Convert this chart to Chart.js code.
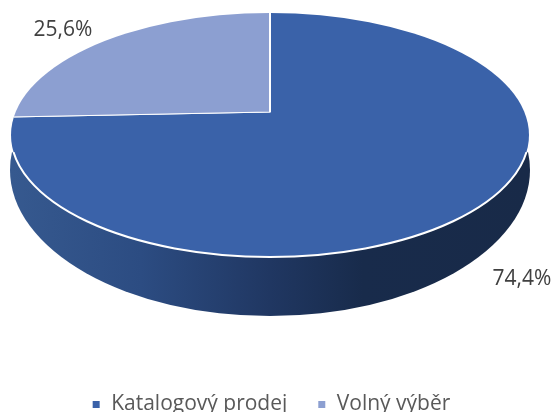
<!DOCTYPE html>
<html>
<head>
<meta charset="utf-8">
<style>
html,body{margin:0;padding:0;background:#fff;}
#wrap{position:relative;width:552px;height:412px;}
canvas{display:block;}
</style>
<script src="https://cdn.jsdelivr.net/npm/chart.js@4"></script>
</head>
<body>
<div id="wrap"><canvas id="c" width="552" height="412"></canvas></div>
<script>
const categories = ['Katalogový prodej', 'Volný výběr'];
const shares = [74.4, 25.6];
const sliceColors = ['#3A62A9', '#8C9FD1'];
const labelAnchors = [[522, 279], [63, 30]];

// Perspective view of the disc
const top3d = {cx: 270, cy: 135, rx: 259, ry: 122, apexX: 270, apexY: 112, squash: 0.5};
const wall3d = {cx: 270, cy: 170, rx: 260, ry: 146, startY: 152};

const view3d = {
  id: 'view3d',
  beforeDatasetsDraw(chart) {
    const ctx = chart.ctx;
    ctx.save();
    ctx.beginPath();
    ctx.rect(0, wall3d.startY, chart.width, chart.height);
    ctx.clip();
    const g = ctx.createLinearGradient(12, 0, 528, 0);
    g.addColorStop(0, '#36598F');
    g.addColorStop(0.25, '#2C4C82');
    g.addColorStop(0.5, '#203762');
    g.addColorStop(0.68, '#182B4B');
    g.addColorStop(1, '#182A48');
    ctx.fillStyle = g;
    ctx.beginPath();
    ctx.ellipse(wall3d.cx, wall3d.cy, wall3d.rx, wall3d.ry, 0, 0, Math.PI * 2);
    ctx.fill();
    ctx.restore();
  },
  beforeDatasetDraw(chart, args) {
    const ctx = chart.ctx;
    const arc = chart.getDatasetMeta(args.index).data[0];
    ctx.save();
    ctx.beginPath();
    ctx.ellipse(top3d.cx, top3d.cy, top3d.rx, top3d.ry, 0, 0, Math.PI * 2);
    ctx.clip();
    ctx.translate(top3d.apexX, top3d.apexY);
    ctx.scale(1, top3d.squash);
    ctx.translate(-arc.x, -arc.y);
  },
  afterDatasetDraw(chart) {
    chart.ctx.restore();
  },
  afterDatasetsDraw(chart) {
    const ctx = chart.ctx;
    // bright rim along the front edge of the top face
    ctx.save();
    ctx.beginPath();
    ctx.rect(0, wall3d.startY, chart.width, chart.height);
    ctx.clip();
    ctx.strokeStyle = '#FFFFFF';
    ctx.lineWidth = 2;
    ctx.beginPath();
    ctx.ellipse(top3d.cx, top3d.cy, top3d.rx, top3d.ry, 0, 0, Math.PI * 2);
    ctx.stroke();
    ctx.restore();
    // value labels
    ctx.save();
    ctx.font = '21px "Open Sans"';
    ctx.fillStyle = '#404040';
    ctx.textAlign = 'center';
    ctx.textBaseline = 'middle';
    shares.forEach((v, i) => {
      ctx.fillText(v.toFixed(1).replace('.', ',') + '%', labelAnchors[i][0], labelAnchors[i][1]);
    });
    ctx.restore();
  }
};

new Chart(document.getElementById('c'), {
  type: 'pie',
  data: {
    labels: categories,
    datasets: [{
      data: shares,
      backgroundColor: sliceColors,
      borderColor: '#FFFFFF',
      borderWidth: 2,
      radius: 700,
      clip: false,
      hoverOffset: 0
    }]
  },
  options: {
    responsive: false,
    animation: false,
    layout: {padding: {bottom: -13, right: 10}},
    plugins: {
      tooltip: {enabled: false},
      legend: {
        position: 'bottom',
        labels: {
          boxWidth: 9,
          boxHeight: 9,
          padding: 30,
          color: '#595959',
          font: {family: '"Open Sans"', size: 21}
        }
      }
    }
  },
  plugins: [view3d]
});
</script>
</body>
</html>
